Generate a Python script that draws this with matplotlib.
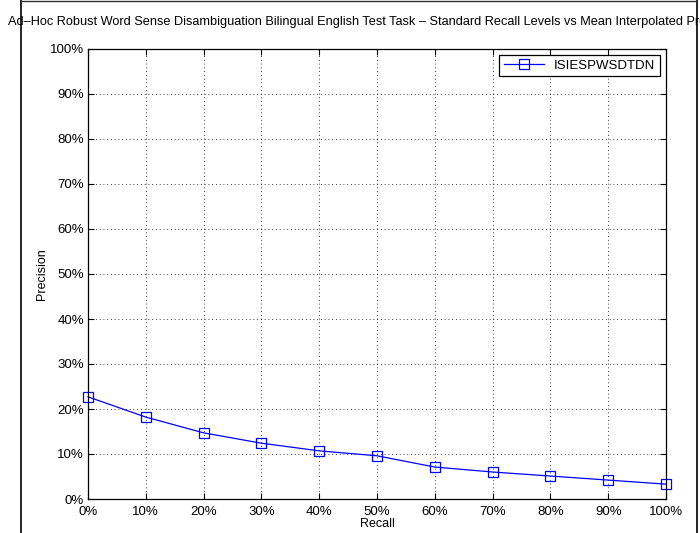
import matplotlib
matplotlib.use("Agg")
import matplotlib.pyplot as plt
import matplotlib.ticker as mticker
from matplotlib.lines import Line2D

# ---------------------------------------------------------------------------
# Data
# ---------------------------------------------------------------------------

RECALL    = [0, 10, 20, 30, 40, 50, 60, 70, 80, 90, 100]
PRECISION = [22.7, 18.2, 14.7, 12.4, 10.7, 9.6, 7.1, 6.0, 5.1, 4.2, 3.3]
RUN_NAME  = "ISIESPWSDTDN"
TITLE     = ("Ad\u2013Hoc Robust Word Sense Disambiguation Bilingual English Test Task \u2013 "
             "Standard Recall Levels vs Mean Interpolated Precision")

plt.rcParams["font.family"] = ["Liberation Sans", "DejaVu Sans"]

fig = plt.figure(figsize=(7.0, 5.33), dpi=100)
ax = fig.add_axes([88 / 700, 34 / 533, 578 / 700, 450 / 533])

ax.plot(RECALL, PRECISION, color="blue", linewidth=0.9, marker="s",
        markersize=6.5, markerfacecolor="none", markeredgecolor="blue",
        markeredgewidth=0.9, label=RUN_NAME, clip_on=False)

ax.set_xlim(0, 100)
ax.set_ylim(0, 100)
ax.set_xticks(range(0, 101, 10))
ax.set_yticks(range(0, 101, 10))
ax.xaxis.set_major_formatter(mticker.PercentFormatter(decimals=0))
ax.yaxis.set_major_formatter(mticker.PercentFormatter(decimals=0))
ax.tick_params(direction="in", top=True, right=True, length=4, width=0.8,
               labelsize=9.5)
ax.tick_params(axis="x", pad=5)
ax.tick_params(axis="y", pad=3)
ax.grid(True, color="black", linestyle=(0, (1, 3.5)), linewidth=0.6)
for s in ax.spines.values():
    s.set_linewidth(0.9)

ax.set_xlabel("Recall", fontsize=9, labelpad=0)
ax.set_ylabel("Precision", fontsize=9, labelpad=1)
ax.set_title(TITLE, fontsize=9.15, pad=17, x=0.493)

leg = ax.legend(loc="upper right", fontsize=9.5, fancybox=False,
                edgecolor="black", framealpha=1, handlelength=3.0,
                borderaxespad=0.45, borderpad=0.35)
leg.get_frame().set_linewidth(0.9)

# screenshot frame edges
fig.add_artist(Line2D([21 / 700, 21 / 700], [0, 1], color="black", linewidth=1.2))
fig.add_artist(Line2D([697 / 700, 697 / 700], [0, 1], color="black", linewidth=1.2))
fig.add_artist(Line2D([21 / 700, 697 / 700], [532 / 533, 532 / 533], color="#333333", linewidth=1.0))

fig.savefig("out.png", dpi=100)
